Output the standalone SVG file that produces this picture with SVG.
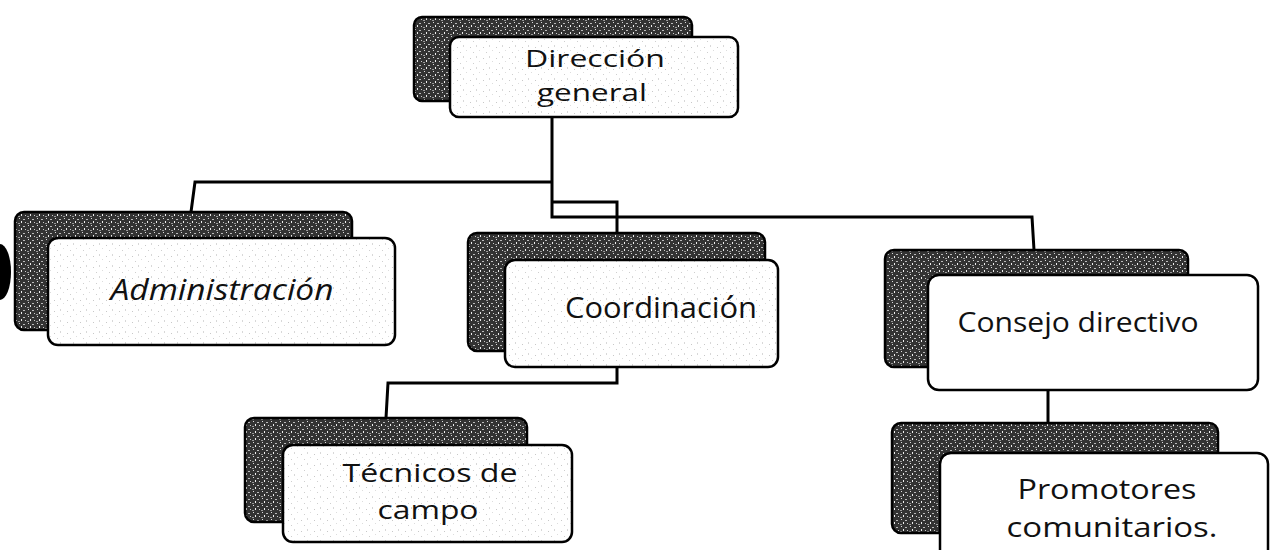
<svg xmlns="http://www.w3.org/2000/svg" width="1276" height="550" viewBox="0 0 1276 550">
<defs>
<pattern id="ht" x="0" y="0" width="9" height="7" patternUnits="userSpaceOnUse">
<rect width="9" height="7" fill="#333"/>
<rect x="1" y="1" width="1" height="1" fill="#ddd"/>
<rect x="5" y="2" width="2" height="1" fill="#bbb"/>
<rect x="3" y="4" width="1" height="2" fill="#eee"/>
<rect x="7" y="5" width="1" height="1" fill="#ccc"/>
<rect x="0" y="6" width="2" height="1" fill="#999"/>
</pattern>
<pattern id="sp" x="0" y="0" width="13" height="11" patternUnits="userSpaceOnUse">
<rect width="13" height="11" fill="#ffffff"/>
<rect x="2" y="3" width="1" height="1" fill="#c8c8c8"/>
<rect x="8" y="1" width="1" height="2" fill="#d8d8d8"/>
<rect x="5" y="8" width="1" height="1" fill="#cfcfcf"/>
<rect x="11" y="6" width="1" height="1" fill="#dddddd"/>
</pattern>
</defs>
<style>
.back{fill:url(#ht);stroke:#000;stroke-width:2.5}
.front{fill:#fff;stroke:#000;stroke-width:2.5}
.tex{fill:url(#sp);stroke:#000;stroke-width:2.5}
.t{font-family:"Open Sans","Noto Sans","DejaVu Sans",sans-serif;fill:#111;text-anchor:middle}
.c{fill:none;stroke:#000;stroke-width:3;stroke-linejoin:miter}
</style>
<rect width="1276" height="550" fill="#fff"/>
<ellipse cx="0" cy="272" rx="11" ry="28" fill="#000"/>
<g id="connectors">
<path class="c" d="M552,117 V217 H1032 L1034,250"/>
<path class="c" d="M552,182 H195 L191,212"/>
<path class="c" d="M552,202 H617 V233"/>
<path class="c" d="M617,367 V383 H388 L386,418"/>
<path class="c" d="M1048,390 V423"/>
</g>
<g id="n-direccion">
<rect class="back" x="414" y="17" width="278" height="84" rx="8"/>
<rect class="tex" x="450" y="37" width="288" height="80" rx="9"/>
<text class="t" x="595" y="67" font-size="24" textLength="140" lengthAdjust="spacingAndGlyphs">Dirección</text>
<text class="t" x="592" y="101" font-size="24" textLength="110" lengthAdjust="spacingAndGlyphs">general</text>
</g>
<g id="n-administracion">
<rect class="back" x="15" y="212" width="337" height="118" rx="9"/>
<rect class="tex" x="48" y="238" width="347" height="107" rx="10"/>
<text class="t" x="222" y="300" font-size="30" font-style="italic" textLength="223" lengthAdjust="spacingAndGlyphs">Administración</text>
</g>
<g id="n-coordinacion">
<rect class="back" x="468" y="233" width="297" height="118" rx="9"/>
<rect class="tex" x="505" y="260" width="273" height="107" rx="10"/>
<text class="t" x="661" y="318" font-size="29" textLength="192" lengthAdjust="spacingAndGlyphs">Coordinación</text>
</g>
<g id="n-consejo">
<rect class="back" x="885" y="250" width="303" height="117" rx="9"/>
<rect class="front" x="928" y="275" width="330" height="115" rx="11"/>
<text class="t" x="1078" y="332" font-size="27" textLength="241" lengthAdjust="spacingAndGlyphs">Consejo directivo</text>
</g>
<g id="n-tecnicos">
<rect class="back" x="245" y="418" width="282" height="104" rx="9"/>
<rect class="tex" x="283" y="445" width="289" height="97" rx="10"/>
<text class="t" x="430" y="482" font-size="26" textLength="175" lengthAdjust="spacingAndGlyphs">Técnicos de</text>
<text class="t" x="428" y="519" font-size="26" textLength="101" lengthAdjust="spacingAndGlyphs">campo</text>
</g>
<g id="n-promotores">
<rect class="back" x="892" y="423" width="326" height="110" rx="9"/>
<rect class="front" x="940" y="453" width="328" height="130" rx="11"/>
<text class="t" x="1107" y="499" font-size="27" textLength="179" lengthAdjust="spacingAndGlyphs">Promotores</text>
<text class="t" x="1112" y="537" font-size="27" textLength="211" lengthAdjust="spacingAndGlyphs">comunitarios.</text>
</g>
</svg>
